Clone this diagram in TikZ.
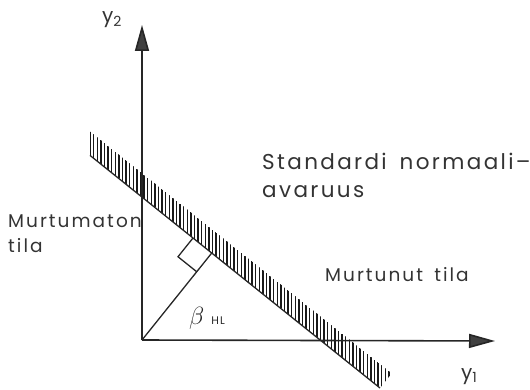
\documentclass[tikz,border=0pt]{standalone}
\usepackage{fontspec}
\setmainfont{Poppins}
\newfontfamily\cadfont{Poppins}[LetterSpace=11,WordSpace=1.6]
\usetikzlibrary{arrows.meta,calc}
\begin{document}
\begin{tikzpicture}[x=1pt,y=-1pt,
  axis/.style={line width=1.6pt, draw=black!85, -{Triangle[length=26pt,width=14pt,fill=black!75]}},
  edge/.style={line width=1.3pt, draw=black!85},
  hatch/.style={line width=1.4pt, draw=black!90},
  big/.style={anchor=base west, inner sep=0pt, text=black!80, font=\cadfont\fontsize{21.5}{21.5}\selectfont},
  mid/.style={anchor=base west, inner sep=0pt, text=black!80, font=\cadfont\fontsize{18.5}{18.5}\selectfont},
  small/.style={anchor=base west, inner sep=0pt, text=black!80, font=\cadfont\fontsize{20}{20}\selectfont}]
\useasboundingbox (0,0) rectangle (530,390);
\coordinate (O) at (142,340);
\coordinate (Y2) at (142,25);
\coordinate (Y1) at (495,341);
\coordinate (L0) at (90,155.4);
\coordinate (B) at (380,388);
\coordinate (F) at ($(L0)!(O)!(B)$);
\coordinate (P1) at ($(F)!24pt!(L0)$);
\coordinate (P3) at ($(F)!24pt!(O)$);
\coordinate (P2) at ($(P1)+(P3)-(F)$);
% hatched band
\begin{scope}
  \clip (90,155.4) -- (90,131.4) -- (391.7,373.4) -- (380,388) -- cycle;
  \foreach \x in {90,93.6,...,394} \draw[hatch] (\x,{157+(\x-92)*0.8021}) -- ++(0,-24);
\end{scope}
\draw[edge] (L0) -- (B);
% axes
\draw[axis] (O) -- (Y2);
\draw[axis] (O) -- (Y1);
% perpendicular and right angle
\draw[edge] (O) -- (F);
\draw[edge] (P1) -- (P2) -- (P3);
% labels
\node[small] (ly2) at (102,23) {y\raisebox{-0.3ex}{\fontsize{14}{14}\selectfont 2}};
\node[small] (ly1) at (461,379) {y\raisebox{-0.3ex}{\fontsize{14}{14}\selectfont 1}};
\node[big] (std1) at (262,170) {Standardi normaali–};
\node[big] (std2) at (262,198) {avaruus};
\node[mid] (mt1) at (8,227) {Murtumaton};
\node[mid] (mt2) at (8,252) {tila};
\node[mid] (mn) at (325,281) {Murtunut tila};
\node[anchor=base west, inner sep=0pt, text=black!85] (beta) at (189,324)
  {\fontsize{31}{31}\selectfont$\beta$\hspace{7pt}\cadfont\fontsize{11}{11}\selectfont HL};
\end{tikzpicture}
\end{document}
